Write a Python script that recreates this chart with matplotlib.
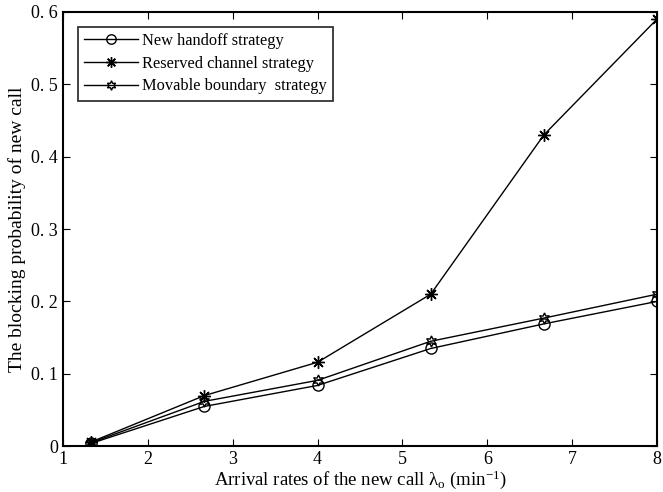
import numpy as np
import matplotlib
matplotlib.use('Agg')
import matplotlib.pyplot as plt

plt.rcParams['font.family'] = ['Liberation Serif', 'DejaVu Serif']
plt.rcParams['mathtext.fontset'] = 'custom'
plt.rcParams['mathtext.rm'] = 'Liberation Serif'
plt.rcParams['mathtext.it'] = 'Liberation Serif'

# tasas de llegada (min^-1)
x = [4/3, 8/3, 4, 16/3, 20/3, 8]
new_handoff = [0.004, 0.055, 0.084, 0.135, 0.169, 0.200]
reserved = [0.006, 0.070, 0.116, 0.210, 0.430, 0.590]
movable = [0.005, 0.062, 0.091, 0.145, 0.177, 0.210]

xticks = [1, 2, 3, 4, 5, 6, 7, 8]
yticks = [0, 0.1, 0.2, 0.3, 0.4, 0.5, 0.6]
ytick_labels = ['0', '0. 1', '0. 2', '0. 3', '0. 4', '0. 5', '0. 6']

fig = plt.figure(figsize=(6.63, 4.92), dpi=100)
ax = fig.add_axes([0.095, 0.093, 0.896, 0.883])

ax.plot(x, new_handoff, '-', color='k', lw=1, marker='o', ms=8,
        mfc='none', mec='k', label='New handoff strategy')
ax.plot(x, reserved, '-', color='k', lw=1, marker=(8, 2, 0), ms=9,
        mec='k', label='Reserved channel strategy')
ax.plot(x, movable, '-', color='k', lw=1, marker=(6, 1, 0), ms=8,
        mfc='none', mec='k', label='Movable boundary  strategy')

ax.set_xlim(1, 8)
ax.set_ylim(0, 0.6)
ax.set_xticks(xticks)
ax.set_yticks(yticks)
ax.set_yticklabels(ytick_labels)
ax.tick_params(direction='in', top=True, right=True, labelsize=13, length=5)
for s in ax.spines.values():
    s.set_linewidth(1.5)

ax.set_xlabel(r'Arrival rates of the new call λ$_{\mathrm{o}}$ (min$^{\mathrm{-1}}$)', fontsize=13.5, labelpad=0)
ax.set_ylabel('The blocking probability of new call', fontsize=14, labelpad=4)

leg = ax.legend(loc='upper left', bbox_to_anchor=(0.025, 0.966), fontsize=11.8,
                handlelength=3.3, frameon=True, fancybox=False, borderaxespad=0,
                labelspacing=0.4, borderpad=0.4, handletextpad=0.2, markerscale=0.85)
leg.get_frame().set_edgecolor('k')
leg.get_frame().set_linewidth(1.3)

plt.savefig('out.png', dpi=100)
